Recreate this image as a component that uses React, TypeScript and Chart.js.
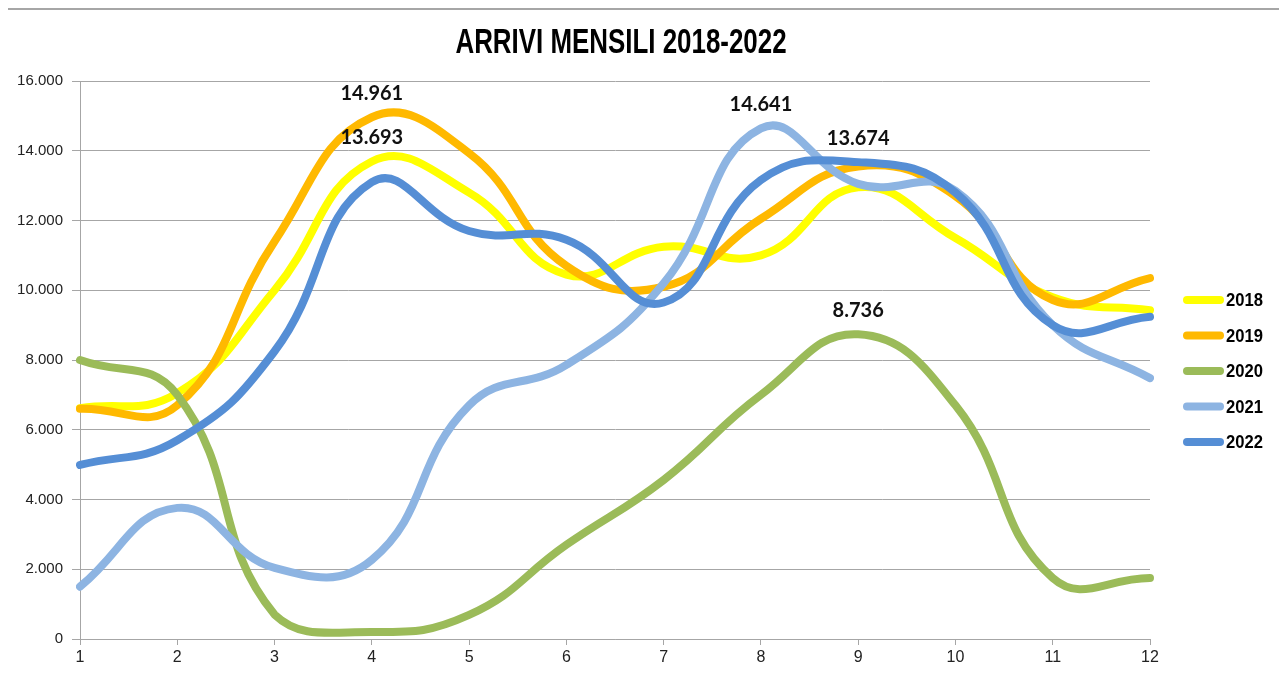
import React, { useEffect, useRef } from 'react';
import { Chart, registerables } from 'chart.js';

Chart.register(...registerables);

const months = ['1', '2', '3', '4', '5', '6', '7', '8', '9', '10', '11', '12'];
const seriesNames = ['2018', '2019', '2020', '2021', '2022'];
const s2018 = [6620, 7050, 10000, 13693, 12800, 10450, 11250, 11000, 12950, 11500, 9800, 9430];
const s2019 = [6600, 6700, 11400, 14961, 13930, 10700, 10100, 12050, 13550, 12700, 9720, 10350];
const s2020 = [8000, 7000, 700, 200, 690, 2700, 4560, 7000, 8736, 6700, 1750, 1750];
const s2021 = [1500, 3760, 2040, 2270, 6700, 7860, 10200, 14641, 13050, 12850, 9000, 7480];
const s2022 = [4990, 5700, 8250, 13100, 11700, 11450, 9650, 13160, 13674, 12800, 9000, 9240];
const seriesColors = ['#FFFF00', '#FFB900', '#9BBB59', '#8DB4E2', '#558ED5'];
// labelled points: series index and month index
const labelSeries = [1, 0, 3, 4, 2];
const labelMonths = [3, 3, 7, 8, 8];
const yTicks = [0, 2000, 4000, 6000, 8000, 10000, 12000, 14000, 16000];
const chartTitle = 'ARRIVI MENSILI 2018-2022';

const allSeries = [s2018, s2019, s2020, s2021, s2022];

function fmt(v: number): string {
  return Math.round(v).toString().replace(/\B(?=(\d{3})+(?!\d))/g, '.');
}

const SANS = '"Liberation Sans", Arial, sans-serif';

export default function App() {
  const ref = useRef<HTMLCanvasElement>(null);

  useEffect(() => {
    if (!ref.current) return;

    const labelPlugin = {
      id: 'pointValueLabels',
      afterDatasetsDraw(chart: any) {
        const ctx = chart.ctx;
        ctx.save();
        ctx.font = 'bold 20px Lato, "Open Sans", sans-serif';
        ctx.fillStyle = '#111';
        ctx.textAlign = 'center';
        ctx.textBaseline = 'middle';
        labelSeries.forEach((si, k) => {
          const mi = labelMonths[k];
          const pt = chart.getDatasetMeta(si).data[mi];
          if (!pt) return;
          ctx.fillText(fmt(allSeries[si][mi]), pt.x, pt.y - 24);
        });
        ctx.restore();
      },
    };

    const titleLegendPlugin = {
      id: 'narrowTitleLegend',
      afterDraw(chart: any) {
        const ctx = chart.ctx;
        const ca = chart.chartArea;
        // title
        ctx.save();
        ctx.translate((ca.left + ca.right) / 2 + 6, 43);
        ctx.scale(0.74, 1);
        ctx.font = `bold 35px ${SANS}`;
        ctx.fillStyle = '#000';
        ctx.textAlign = 'center';
        ctx.textBaseline = 'alphabetic';
        ctx.fillText(chartTitle, 0, 0);
        ctx.restore();
        // legend
        const lx = ca.right + 37;
        const midY = (ca.top + ca.bottom) / 2 + 11;
        seriesNames.forEach((name, i) => {
          const y = midY + (i - 2) * 35.5;
          ctx.save();
          ctx.strokeStyle = seriesColors[i];
          ctx.lineWidth = 8;
          ctx.lineCap = 'round';
          ctx.beginPath();
          ctx.moveTo(lx, y);
          ctx.lineTo(lx + 33, y);
          ctx.stroke();
          ctx.translate(lx + 39, y);
          ctx.scale(0.875, 1);
          ctx.font = `bold 19px ${SANS}`;
          ctx.fillStyle = '#000';
          ctx.textAlign = 'left';
          ctx.textBaseline = 'middle';
          ctx.fillText(name, 0, 1);
          ctx.restore();
        });
      },
    };

    const chart = new Chart(ref.current, {
      type: 'line',
      data: {
        labels: months,
        datasets: allSeries.map((data, i) => ({
          label: seriesNames[i],
          data,
          borderColor: seriesColors[i],
          backgroundColor: seriesColors[i],
          borderWidth: 8,
          tension: 0.45,
          pointRadius: 0,
          pointHoverRadius: 0,
          fill: false,
          borderCapStyle: 'round',
          borderJoinStyle: 'round',
          order: allSeries.length - i,
        })),
      },
      options: {
        animation: false,
        responsive: false,
        maintainAspectRatio: false,
        layout: { padding: { left: 0, right: 130, top: 71, bottom: 0 } },
        plugins: {
          title: { display: false },
          legend: { display: false },
          tooltip: { enabled: false },
        },
        scales: {
          x: {
            type: 'category',
            offset: false,
            grid: { display: true, drawOnChartArea: false, drawTicks: true, tickLength: 6, color: '#a6a6a6' },
            border: { display: true, color: '#a6a6a6', width: 1 },
            ticks: { color: '#222', font: { family: SANS, size: 16 }, padding: 3, maxRotation: 0, autoSkip: false },
            afterFit: (s: any) => { s.height = 39; },
          },
          y: {
            min: 0,
            max: 16000,
            afterBuildTicks: (s: any) => { s.ticks = yTicks.map((v) => ({ value: v })); },
            grid: { color: '#a6a6a6', tickLength: 8, drawTicks: true },
            border: { display: true, color: '#a6a6a6', width: 1 },
            ticks: {
              color: '#222',
              font: { family: SANS, size: 15 },
              padding: 9,
              callback: (v: any) => fmt(Number(v)),
            },
            afterFit: (s: any) => { s.width = 73; },
          },
        },
      },
      plugins: [labelPlugin, titleLegendPlugin],
    } as any);
    return () => chart.destroy();
  }, []);

  return (
    <div
      style={{
        marginLeft: -3,
        width: 1273,
        height: 668,
        borderTop: '2px solid #a6a6a6',
        borderLeft: '2px solid #a6a6a6',
        borderRight: '2px solid #a6a6a6',
        background: '#fff',
      }}
    >
      <canvas ref={ref} width={1273} height={668} style={{ display: 'block' }} />
    </div>
  );
}
